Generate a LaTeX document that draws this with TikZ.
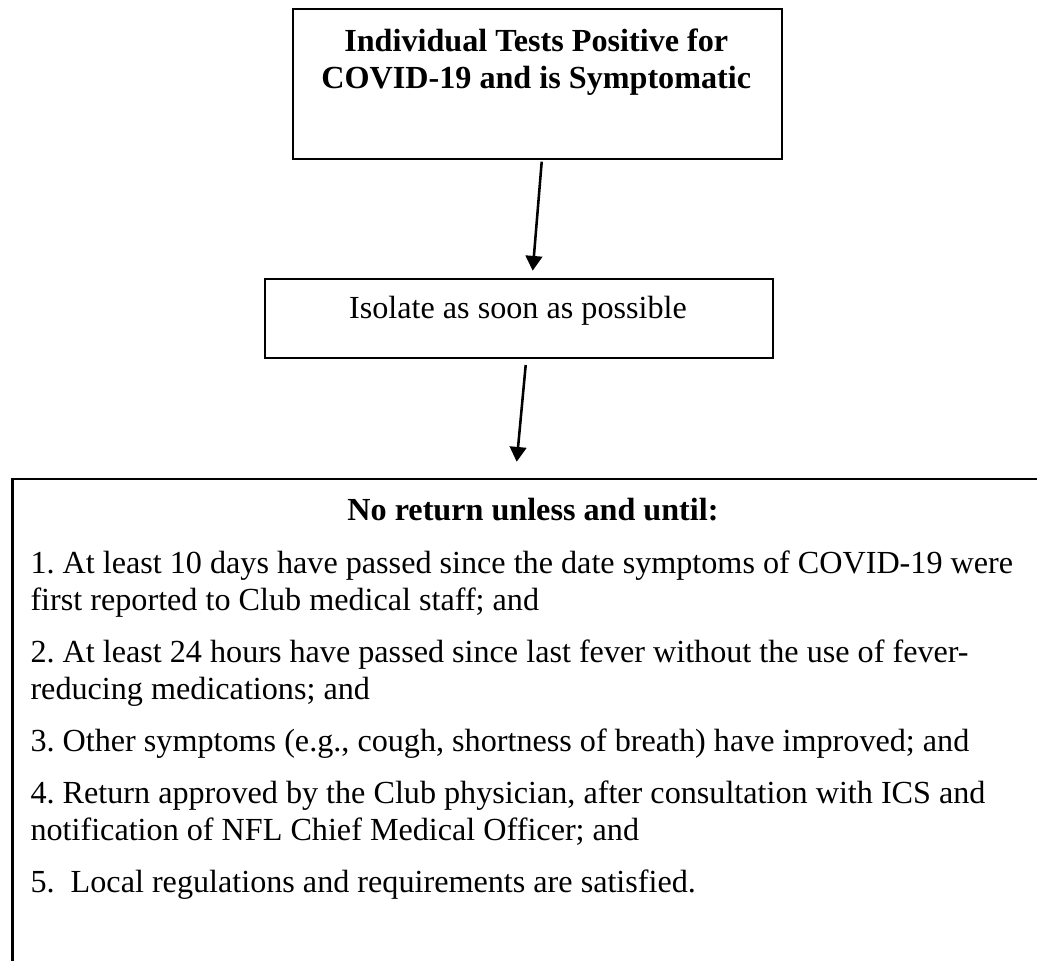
\documentclass[tikz,border=0pt]{standalone}
\usepackage{fontspec}
\setmainfont{Liberation Serif}
\usetikzlibrary{arrows.meta}
\frenchspacing
\tikzset{%
    box/.style={draw, line width=0.8pt, inner sep=0pt, anchor=north west},
    txt/.style={inner sep=0pt, font=\fontsize{12}{13.8}\selectfont},
    bold/.style={txt, font=\fontsize{12}{13.8}\selectfont\bfseries},
    flow/.style={line width=0.95pt, -{Triangle[width=6.2pt,length=5.5pt]}}
}

\begin{document}
\begin{tikzpicture}[x=0.3731pt,y=-0.3731pt]
    \useasboundingbox (0,0) rectangle (1037,961);
    \clip (0,0) rectangle (1037,961);
    \node[box, minimum width=182.3pt, minimum height=55.85pt] (positive) at (292,8) {};
    \node[box, minimum width=189.4pt, minimum height=29.5pt] (isolate) at (264,278) {};
    \node[box, line width=1pt, minimum width=387.7pt, minimum height=194.8pt] (noreturn) at (11,477.7) {};
    \node[bold, align=center, anchor=north] (positivetext) at (536.3,28)
        {Individual Tests Positive for\\COVID-19 and is Symptomatic};
    \node[txt, anchor=base] (isolatetext) at (518,319) {Isolate as soon as possible};
    \node[bold, anchor=base] (noreturntext) at (533,520) {No return unless and until:};
    \node[txt, align=left, anchor=north west] (conditions) at (30,550)
        {1. At least 10 days have passed since the date symptoms of COVID-19 were\\
         first reported to Club medical staff; and\\[5.6pt]
         2. At least 24 hours have passed since last fever without the use of fever-\\
         reducing medications; and\\[5.6pt]
         3. Other symptoms (e.g., cough, shortness of breath) have improved; and\\[5.6pt]
         4. Return approved by the Club physician, after consultation with ICS and\\
         notification of NFL Chief Medical Officer; and\\[5.6pt]
         5.\ \ Local regulations and requirements are satisfied.};
    \coordinate (a1) at (541.7,161.7);
    \coordinate (b1) at (532.7,270.7);
    \coordinate (a2) at (525.7,365);
    \coordinate (b2) at (516.7,461.7);
    \draw[flow] (a1)--(b1);
    \draw[flow] (a2)--(b2);
\end{tikzpicture}
\end{document}
